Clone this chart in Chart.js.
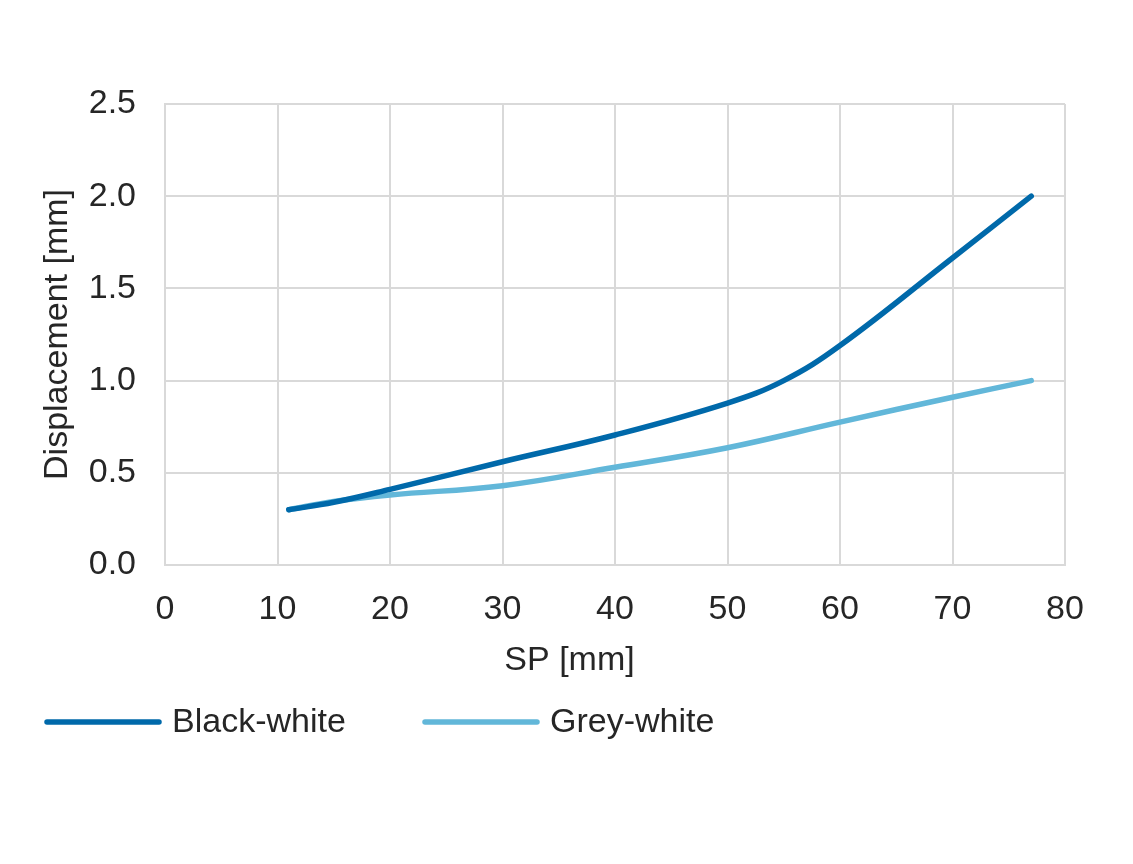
<!DOCTYPE html>
<html>
<head>
<meta charset="utf-8">
<script src="https://cdn.jsdelivr.net/npm/chart.js@4"></script>
<style>
  html, body { margin: 0; padding: 0; background: #fff; }
  #wrap { width: 1133px; height: 864px; position: relative; }
</style>
</head>
<body>
<div id="wrap"><canvas id="chart" width="1133" height="864"></canvas></div>
<script>
// SP [mm] positions
const spBlack = [11, 15, 20, 30, 40, 50, 55, 60, 70, 77];
const dispBlack = [0.30, 0.34, 0.41, 0.56, 0.705, 0.878, 1.0, 1.19, 1.665, 2.0];

const spGrey = [11, 15, 20, 30, 40, 50, 60, 70, 77];
const dispGrey = [0.30, 0.345, 0.38, 0.43, 0.53, 0.636, 0.775, 0.91, 1.0];

const seriesNames = ['Black-white', 'Grey-white'];
const seriesColors = ['#0069aa', '#62b7d9'];

const xTicks = { min: 0, max: 80, step: 10 };
const yTicks = { min: 0, max: 2.5, step: 0.5 };

const toPoints = (xs, ys) => xs.map((x, i) => ({ x: x, y: ys[i] }));

Chart.defaults.font.family = "'Liberation Sans', Arial, sans-serif";
Chart.defaults.font.size = 34;
Chart.defaults.color = '#262626';

// legend and x title drawn by hand so they sit like the original
const bottomLegend = {
    id: 'bottomLegend',
    afterDraw(chart) {
        const ctx = chart.ctx;
        const starts = [47, 425];
        const y = 722;
        ctx.save();
        ctx.font = "34px 'Liberation Sans', Arial, sans-serif";
        ctx.fillStyle = '#262626';
        ctx.textBaseline = 'middle';
        ctx.textAlign = 'center';
        ctx.fillText('SP [mm]', chart.width / 2 + 3, 661);
        chart.data.datasets.forEach((ds, i) => {
            const x0 = starts[i];
            ctx.strokeStyle = ds.borderColor;
            ctx.lineWidth = 5.5;
            ctx.lineCap = 'round';
            ctx.beginPath();
            ctx.moveTo(x0, y);
            ctx.lineTo(x0 + 112, y);
            ctx.stroke();
            ctx.textAlign = 'left';
            ctx.fillText(ds.label, x0 + 125, y + 1);
        });
        ctx.restore();
    }
};

new Chart(document.getElementById('chart'), {
    type: 'line',
    data: {
        datasets: [
            {
                label: seriesNames[0],
                data: toPoints(spBlack, dispBlack),
                borderColor: seriesColors[0],
                backgroundColor: seriesColors[0],
                borderWidth: 5.5,
                borderCapStyle: 'round',
                pointRadius: 0,
                tension: 0.4
            },
            {
                label: seriesNames[1],
                data: toPoints(spGrey, dispGrey),
                borderColor: seriesColors[1],
                backgroundColor: seriesColors[1],
                borderWidth: 5.5,
                borderCapStyle: 'round',
                pointRadius: 0,
                tension: 0.4
            }
        ]
    },
    options: {
        responsive: false,
        animation: false,
        layout: { padding: { left: 0, top: 104, right: 68, bottom: 0 } },
        plugins: {
            legend: { display: false },
            tooltip: { enabled: false }
        },
        scales: {
            x: {
                type: 'linear',
                min: xTicks.min,
                max: xTicks.max,
                ticks: { stepSize: xTicks.step, padding: 24 },
                grid: { color: '#d9d9d9', lineWidth: 2, drawTicks: false },
                border: { color: '#d9d9d9', width: 2 },
                title: { display: false },
                afterFit(scale) { scale.height = 299; }
            },
            y: {
                min: yTicks.min,
                max: yTicks.max,
                ticks: {
                    stepSize: yTicks.step,
                    padding: 29,
                    callback: v => v.toFixed(1)
                },
                grid: { color: '#d9d9d9', lineWidth: 2, drawTicks: false },
                border: { color: '#d9d9d9', width: 2 },
                title: { display: true, text: 'Displacement [mm]', padding: { top: 37, bottom: 0 } },
                afterFit(scale) { scale.width = 165; }
            }
        }
    },
    plugins: [bottomLegend]
});
</script>
</body>
</html>
